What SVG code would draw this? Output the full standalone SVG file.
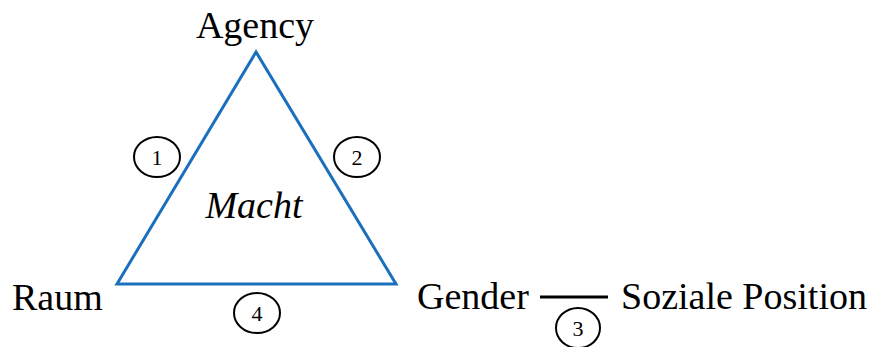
<svg xmlns="http://www.w3.org/2000/svg" width="871" height="347" viewBox="0 0 871 347">
<style>
.lbl{font-size:38px;fill:#000}
.num{font-size:22px;fill:#000;text-anchor:middle}
.badge{fill:#fff;stroke:#000;stroke-width:2}
</style>
<rect width="871" height="347" fill="#fff"/>
<g font-family="'Liberation Serif', 'Times New Roman', serif">
<g id="connectors">
<polygon points="256,52 117,284 396,284" fill="none" stroke="#1b70bd" stroke-width="3" stroke-linejoin="miter"/>
<line x1="540" y1="297" x2="608" y2="297" stroke="#000" stroke-width="3"/>
</g>
<g id="agency"><text class="lbl" x="255" y="38" text-anchor="middle">Agency</text></g>
<g id="raum"><text class="lbl" x="12" y="310">Raum</text></g>
<g id="gender"><text class="lbl" x="417" y="309">Gender</text></g>
<g id="soziale-position"><text class="lbl" x="621" y="309">Soziale Position</text></g>
<g id="macht"><text class="lbl" x="254" y="218" text-anchor="middle" font-style="italic">Macht</text></g>
<g id="badge1"><ellipse class="badge" cx="157" cy="157" rx="23" ry="20"/><text class="num" x="157" y="165">1</text></g>
<g id="badge2"><ellipse class="badge" cx="357" cy="157" rx="23" ry="20"/><text class="num" x="357" y="165">2</text></g>
<g id="badge3"><ellipse class="badge" cx="578" cy="328" rx="22" ry="20"/><text class="num" x="578" y="336">3</text></g>
<g id="badge4"><ellipse class="badge" cx="257" cy="313" rx="23" ry="20"/><text class="num" x="257" y="321">4</text></g>
</g>
</svg>
